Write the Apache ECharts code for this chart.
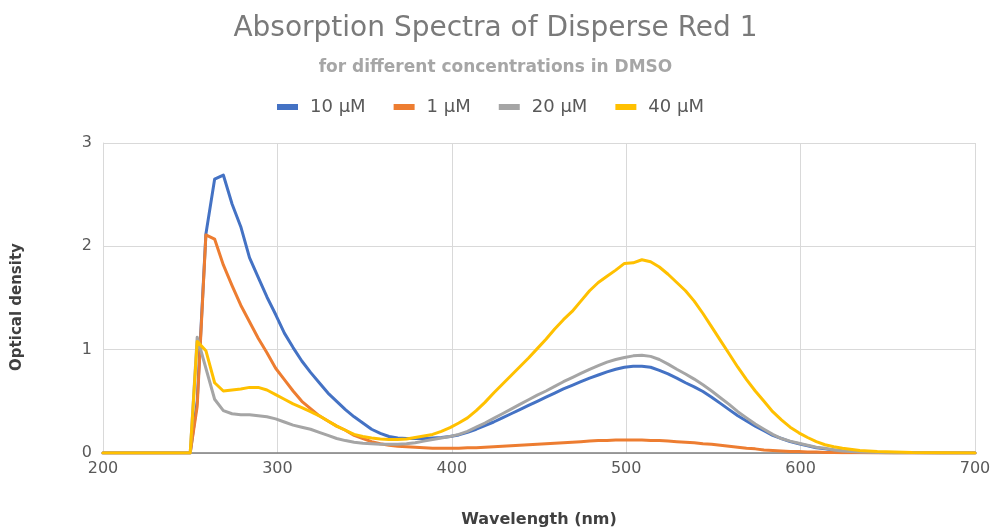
<!DOCTYPE html>
<html>
<head>
<meta charset="utf-8">
<script src="https://cdn.jsdelivr.net/npm/echarts@6/dist/echarts.min.js"></script>
<style>html,body{margin:0;padding:0;background:#fff;}#c{width:991px;height:527px;}</style>
</head>
<body>
<div id="c"></div>
<script>
const wavelengths = [200,250,254,259,264,269,274,279,284,289,294,299,304,309,314,319,324,329,334,339,344,349,354,359,364,369,374,379,384,389,394,399,404,409,414,419,424,429,434,439,444,449,454,459,464,469,474,479,484,489,494,499,504,509,514,519,524,529,534,539,544,549,554,559,564,569,574,579,584,589,594,599,604,609,614,619,624,634,644,654,664,680,700];

const od10uM = [0,0,0.5,2.12,2.65,2.69,2.41,2.19,1.89,1.70,1.51,1.34,1.16,1.02,0.89,0.78,0.68,0.58,0.50,0.42,0.35,0.29,0.23,0.19,0.16,0.145,0.14,0.14,0.14,0.145,0.15,0.16,0.175,0.20,0.23,0.265,0.30,0.34,0.38,0.42,0.46,0.50,0.54,0.58,0.62,0.655,0.69,0.725,0.755,0.785,0.81,0.83,0.84,0.84,0.83,0.80,0.765,0.725,0.68,0.64,0.595,0.54,0.48,0.42,0.36,0.31,0.26,0.215,0.17,0.14,0.11,0.09,0.07,0.05,0.04,0.03,0.02,0.01,0.005,0.003,0.002,0,0];

const od1uM = [0,0,0.45,2.11,2.07,1.82,1.62,1.43,1.27,1.11,0.97,0.82,0.71,0.60,0.50,0.43,0.36,0.31,0.26,0.22,0.17,0.14,0.11,0.09,0.075,0.065,0.06,0.055,0.05,0.045,0.045,0.045,0.045,0.05,0.05,0.055,0.06,0.065,0.07,0.075,0.08,0.085,0.09,0.095,0.1,0.105,0.11,0.115,0.12,0.12,0.125,0.125,0.125,0.125,0.12,0.12,0.115,0.11,0.105,0.1,0.09,0.085,0.075,0.065,0.055,0.045,0.04,0.03,0.025,0.02,0.015,0.015,0.01,0.01,0.005,0.005,0.003,0.002,0.001,0,0,0,0];

const od20uM = [0,0,1.12,0.82,0.52,0.41,0.38,0.37,0.37,0.36,0.35,0.33,0.30,0.27,0.25,0.23,0.20,0.17,0.14,0.12,0.105,0.095,0.09,0.085,0.085,0.085,0.09,0.10,0.115,0.13,0.145,0.16,0.18,0.21,0.25,0.29,0.335,0.38,0.425,0.47,0.515,0.56,0.60,0.645,0.69,0.73,0.77,0.81,0.845,0.88,0.905,0.925,0.94,0.945,0.935,0.905,0.86,0.81,0.765,0.715,0.66,0.60,0.535,0.47,0.40,0.34,0.28,0.23,0.18,0.14,0.115,0.095,0.075,0.055,0.045,0.03,0.02,0.01,0.005,0.003,0.002,0,0];

const od40uM = [0,0,1.08,0.99,0.68,0.60,0.61,0.62,0.635,0.635,0.61,0.565,0.52,0.475,0.44,0.40,0.36,0.31,0.26,0.22,0.18,0.16,0.145,0.135,0.13,0.13,0.135,0.15,0.165,0.18,0.21,0.245,0.29,0.34,0.41,0.49,0.58,0.665,0.75,0.835,0.92,1.01,1.10,1.20,1.29,1.37,1.47,1.57,1.65,1.71,1.77,1.835,1.84,1.87,1.85,1.80,1.73,1.65,1.57,1.47,1.35,1.22,1.09,0.96,0.83,0.71,0.60,0.50,0.40,0.32,0.25,0.195,0.15,0.11,0.08,0.06,0.045,0.025,0.015,0.01,0.005,0.003,0];

const seriesNames = ['10 µM','1 µM','20 µM','40 µM'];
const seriesColors = ['#4472C4','#ED7D31','#A5A5A5','#FFC000'];
const seriesValues = [od10uM, od1uM, od20uM, od40uM];

const chart = echarts.init(document.getElementById('c'), null, {renderer:'canvas'});
const font = "'DejaVu Sans', sans-serif";
chart.setOption({
  animation: false,
  backgroundColor: '#fff',
  textStyle: {fontFamily: font},
  title: [
    {text: 'Absorption Spectra of Disperse Red 1', left: 'center', top: 10,
     textStyle: {fontSize: 28, fontWeight: 'normal', color: '#7a7a7a', fontFamily: font}},
    {text: 'for different concentrations in DMSO', left: 'center', top: 54,
     textStyle: {fontSize: 17, fontWeight: 'bold', color: '#a6a6a6', fontFamily: font}}
  ],
  legend: {
    top: 93, left: 272, icon: 'rect', itemWidth: 21, itemHeight: 6, itemGap: 28,
    textStyle: {fontSize: 18, color: '#595959', fontFamily: font, padding: [0, 0, 0, 7]},
    data: seriesNames
  },
  grid: {left: 103, right: 16, top: 143, bottom: 74, containLabel: false, outerBoundsMode: 'none'},
  xAxis: {
    type: 'value', min: 200, max: 700, interval: 100,
    name: 'Wavelength (nm)', nameLocation: 'middle', nameGap: 59,
    nameTextStyle: {fontSize: 16, fontWeight: 'bold', color: '#404040', fontFamily: font},
    axisLine: {show: true, lineStyle: {color: '#7f7f7f', width: 1.5}},
    axisTick: {show: false},
    axisLabel: {fontSize: 16, color: '#595959', margin: 8, fontFamily: font},
    splitLine: {show: true, lineStyle: {color: '#d9d9d9', width: 1}}
  },
  yAxis: {
    type: 'value', min: 0, max: 3, interval: 1,
    name: 'Optical density', nameLocation: 'middle', nameGap: 78,
    nameTextStyle: {fontSize: 15, fontWeight: 'bold', color: '#404040', fontFamily: font, padding: [0, 18, 0, 0]},
    axisLine: {show: true, lineStyle: {color: '#d9d9d9', width: 1}},
    axisTick: {show: false},
    axisLabel: {fontSize: 16, color: '#595959', margin: 11, fontFamily: font},
    splitLine: {show: true, lineStyle: {color: '#d9d9d9', width: 1}}
  },
  series: seriesNames.map((n, i) => ({
    name: n, type: 'line', showSymbol: false, symbol: 'none', smooth: false,
    lineStyle: {width: 3, color: seriesColors[i], cap: 'round', join: 'round'},
    itemStyle: {color: seriesColors[i]},
    data: wavelengths.map((w, k) => [w, seriesValues[i][k]])
  }))
});
</script>
</body>
</html>
